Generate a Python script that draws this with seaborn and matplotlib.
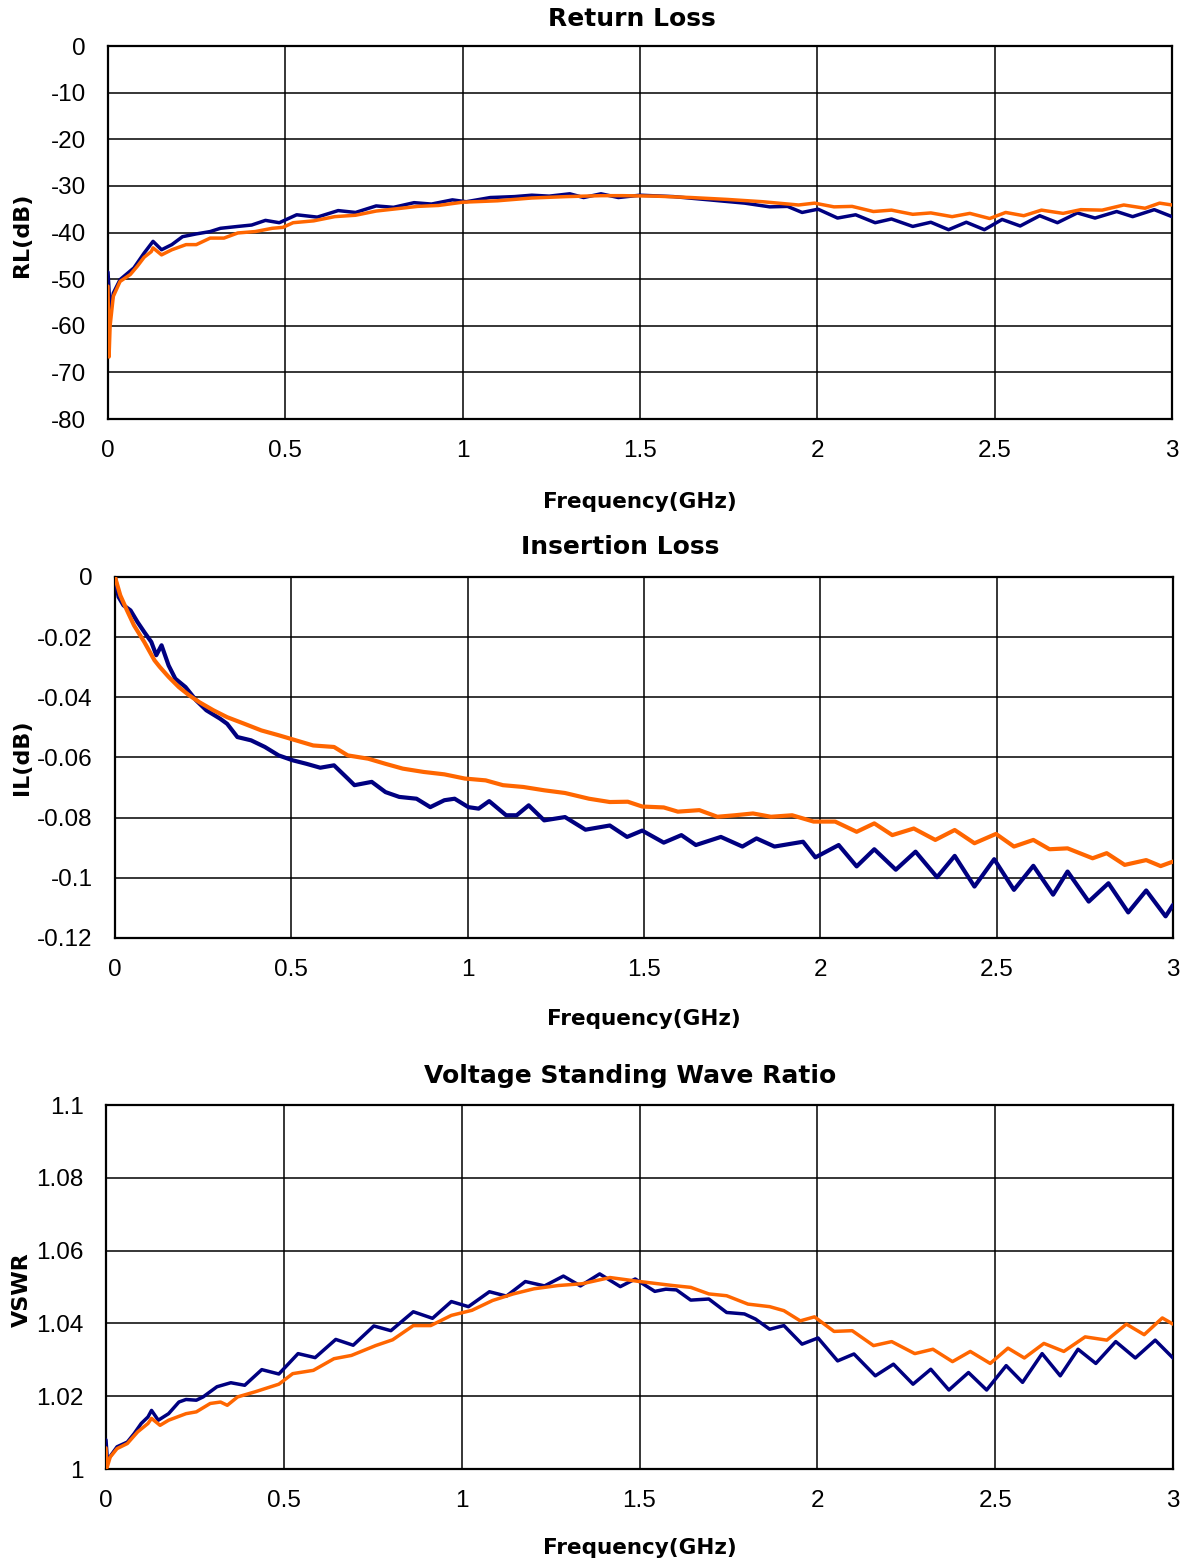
import numpy as np
import pandas as pd
import matplotlib
matplotlib.use("Agg")
import matplotlib.pyplot as plt
import seaborn as sns

# ---------------- data ----------------
x_ticks = [0, 0.5, 1, 1.5, 2, 2.5, 3]
x_tick_labels = ["0", "0.5", "1", "1.5", "2", "2.5", "3"]

rl_ticks = [0, -10, -20, -30, -40, -50, -60, -70, -80]
rl_tick_labels = ["0", "-10", "-20", "-30", "-40", "-50", "-60", "-70", "-80"]
il_ticks = [0, -0.02, -0.04, -0.06, -0.08, -0.10, -0.12]
il_tick_labels = ["0", "-0.02", "-0.04", "-0.06", "-0.08", "-0.1", "-0.12"]
vswr_ticks = [1.0, 1.02, 1.04, 1.06, 1.08, 1.10]
vswr_tick_labels = ["1", "1.02", "1.04", "1.06", "1.08", "1.1"]

rl_blue_f = [0, 0.002, 0.006, 0.015, 0.034, 0.073, 0.102, 0.127, 0.151, 0.180,
             0.210, 0.249, 0.288, 0.317, 0.366, 0.405, 0.444, 0.483, 0.532, 0.590,
             0.649, 0.698, 0.756, 0.805, 0.863, 0.912, 0.971, 1.010, 1.078, 1.146,
             1.195, 1.244, 1.302, 1.341, 1.390, 1.439, 1.500, 1.594, 1.695, 1.795,
             1.866, 1.916, 1.957, 2.002, 2.057, 2.108, 2.163, 2.209, 2.269, 2.320,
             2.370, 2.420, 2.471, 2.521, 2.572, 2.627, 2.677, 2.733, 2.783, 2.844,
             2.889, 2.950, 3.0]
rl_blue = [-48.5, -51.0, -57.0, -53.0, -50.1, -47.6, -44.4, -41.9, -43.7, -42.6,
           -40.9, -40.3, -39.8, -39.1, -38.7, -38.4, -37.4, -37.9, -36.2, -36.7,
           -35.3, -35.7, -34.3, -34.6, -33.6, -33.9, -33.0, -33.4, -32.5, -32.3,
           -32.0, -32.2, -31.7, -32.5, -31.7, -32.5, -32.0, -32.3, -33.0, -33.7,
           -34.5, -34.4, -35.7, -35.0, -36.9, -36.2, -37.9, -37.1, -38.7, -37.8,
           -39.4, -37.8, -39.4, -37.2, -38.6, -36.4, -37.9, -35.8, -36.9, -35.5,
           -36.6, -35.1, -36.6]

rl_orange_f = [0, 0.003, 0.006, 0.015, 0.034, 0.063, 0.083, 0.102, 0.122, 0.127,
               0.151, 0.180, 0.220, 0.249, 0.288, 0.327, 0.366, 0.415, 0.463, 0.493,
               0.522, 0.580, 0.639, 0.698, 0.756, 0.815, 0.873, 0.932, 1.000, 1.098,
               1.195, 1.293, 1.390, 1.450, 1.543, 1.644, 1.745, 1.846, 1.947, 1.992,
               2.047, 2.098, 2.158, 2.209, 2.269, 2.320, 2.380, 2.430, 2.486, 2.531,
               2.582, 2.632, 2.693, 2.743, 2.803, 2.864, 2.924, 2.965, 3.0]
rl_orange = [-51.5, -66.7, -60.0, -53.7, -50.5, -49.0, -47.2, -45.3, -44.1, -43.3,
             -44.8, -43.7, -42.6, -42.6, -41.2, -41.2, -40.1, -39.8, -39.1, -38.9,
             -37.9, -37.5, -36.6, -36.3, -35.4, -34.9, -34.4, -34.2, -33.5, -33.2,
             -32.6, -32.3, -32.1, -32.1, -32.2, -32.5, -32.9, -33.4, -34.1, -33.7,
             -34.5, -34.4, -35.5, -35.2, -36.1, -35.8, -36.6, -35.9, -37.0, -35.7,
             -36.4, -35.2, -35.9, -35.1, -35.2, -34.1, -34.8, -33.7, -34.1]

il_blue_f = [0, 0.010, 0.024, 0.044, 0.064, 0.083, 0.103, 0.117, 0.132, 0.152,
             0.171, 0.200, 0.230, 0.259, 0.298, 0.318, 0.347, 0.386, 0.425, 0.464,
             0.503, 0.543, 0.582, 0.621, 0.660, 0.679, 0.728, 0.767, 0.806, 0.855,
             0.894, 0.934, 0.963, 1.002, 1.031, 1.061, 1.109, 1.139, 1.173, 1.217,
             1.276, 1.334, 1.403, 1.452, 1.495, 1.556, 1.606, 1.647, 1.718, 1.779,
             1.819, 1.870, 1.951, 1.986, 2.052, 2.103, 2.153, 2.214, 2.270, 2.331,
             2.381, 2.437, 2.493, 2.549, 2.604, 2.660, 2.701, 2.761, 2.817, 2.873,
             2.924, 2.979, 3.0]
il_blue = [0, -0.0066, -0.0094, -0.0111, -0.0150, -0.0183, -0.0216, -0.0260, -0.0227, -0.0294,
           -0.0338, -0.0366, -0.0410, -0.0443, -0.0471, -0.0488, -0.0532, -0.0543, -0.0565, -0.0593,
           -0.0609, -0.0621, -0.0634, -0.0626, -0.0670, -0.0692, -0.0681, -0.0715, -0.0731, -0.0737,
           -0.0765, -0.0742, -0.0737, -0.0765, -0.0770, -0.0745, -0.0792, -0.0792, -0.0759, -0.0809,
           -0.0798, -0.0840, -0.0826, -0.0864, -0.0843, -0.0883, -0.0858, -0.0891, -0.0864, -0.0896,
           -0.0869, -0.0896, -0.0880, -0.0932, -0.0891, -0.0962, -0.0905, -0.0973, -0.0913, -0.0998,
           -0.0927, -0.1029, -0.0938, -0.1040, -0.0960, -0.1056, -0.0979, -0.1079, -0.1018, -0.1115,
           -0.1042, -0.1128, -0.1090]

il_orange_f = [0, 0.015, 0.034, 0.054, 0.083, 0.112, 0.127, 0.152, 0.181, 0.210,
               0.239, 0.279, 0.318, 0.367, 0.415, 0.464, 0.513, 0.562, 0.621, 0.660,
               0.718, 0.767, 0.816, 0.875, 0.934, 0.992, 1.051, 1.100, 1.158, 1.217,
               1.276, 1.344, 1.403, 1.454, 1.495, 1.556, 1.596, 1.657, 1.708, 1.758,
               1.809, 1.860, 1.920, 1.981, 2.042, 2.103, 2.153, 2.204, 2.265, 2.326,
               2.381, 2.437, 2.498, 2.549, 2.604, 2.650, 2.701, 2.772, 2.812, 2.863,
               2.924, 2.965, 3.0]
il_orange = [0, -0.0061, -0.0111, -0.0161, -0.0216, -0.0277, -0.0299, -0.0332, -0.0366, -0.0393,
             -0.0416, -0.0443, -0.0466, -0.0488, -0.0510, -0.0526, -0.0543, -0.0560, -0.0565, -0.0593,
             -0.0604, -0.0621, -0.0637, -0.0648, -0.0656, -0.0670, -0.0676, -0.0692, -0.0698, -0.0709,
             -0.0718, -0.0737, -0.0748, -0.0747, -0.0763, -0.0766, -0.0780, -0.0775, -0.0797, -0.0792,
             -0.0786, -0.0797, -0.0792, -0.0813, -0.0813, -0.0847, -0.0819, -0.0858, -0.0836, -0.0874,
             -0.0841, -0.0885, -0.0854, -0.0896, -0.0874, -0.0905, -0.0902, -0.0935, -0.0918, -0.0957,
             -0.0941, -0.0961, -0.0946]

vswr_blue_f = [0, 0.004, 0.031, 0.060, 0.079, 0.099, 0.118, 0.128, 0.147, 0.176,
               0.205, 0.225, 0.254, 0.273, 0.312, 0.351, 0.390, 0.438, 0.486, 0.540,
               0.588, 0.646, 0.695, 0.753, 0.801, 0.864, 0.918, 0.971, 1.019, 1.078,
               1.126, 1.179, 1.233, 1.286, 1.334, 1.388, 1.446, 1.488, 1.543, 1.574,
               1.604, 1.644, 1.695, 1.745, 1.795, 1.826, 1.866, 1.906, 1.957, 2.002,
               2.057, 2.103, 2.163, 2.214, 2.269, 2.319, 2.370, 2.425, 2.476, 2.531,
               2.577, 2.632, 2.683, 2.733, 2.783, 2.839, 2.894, 2.950, 3.0]
vswr_blue = [1.0080, 1.0024, 1.0061, 1.0074, 1.0097, 1.0125, 1.0143, 1.0161, 1.0134, 1.0152,
             1.0184, 1.0191, 1.0189, 1.0198, 1.0226, 1.0237, 1.0230, 1.0273, 1.0261, 1.0317,
             1.0306, 1.0356, 1.0340, 1.0393, 1.0380, 1.0432, 1.0414, 1.0460, 1.0446, 1.0487,
             1.0475, 1.0515, 1.0503, 1.0530, 1.0503, 1.0536, 1.0501, 1.0522, 1.0488, 1.0494,
             1.0492, 1.0464, 1.0467, 1.0430, 1.0426, 1.0412, 1.0384, 1.0394, 1.0343, 1.0360,
             1.0297, 1.0316, 1.0256, 1.0288, 1.0233, 1.0274, 1.0217, 1.0265, 1.0217, 1.0284,
             1.0238, 1.0317, 1.0256, 1.0329, 1.0290, 1.0350, 1.0305, 1.0354, 1.0305]

vswr_orange_f = [0, 0.003, 0.012, 0.031, 0.060, 0.089, 0.118, 0.128, 0.152, 0.176,
                 0.225, 0.254, 0.293, 0.322, 0.341, 0.370, 0.419, 0.486, 0.525, 0.583,
                 0.641, 0.690, 0.758, 0.806, 0.864, 0.913, 0.971, 1.029, 1.087, 1.145,
                 1.203, 1.271, 1.339, 1.417, 1.493, 1.543, 1.594, 1.644, 1.695, 1.745,
                 1.805, 1.866, 1.906, 1.952, 1.992, 2.047, 2.098, 2.158, 2.209, 2.274,
                 2.325, 2.380, 2.430, 2.486, 2.536, 2.582, 2.637, 2.693, 2.753, 2.814,
                 2.869, 2.919, 2.970, 3.0]
vswr_orange = [1.0058, 1.0004, 1.0033, 1.0056, 1.0070, 1.0102, 1.0125, 1.0139, 1.0120, 1.0134,
               1.0152, 1.0157, 1.0180, 1.0184, 1.0175, 1.0198, 1.0212, 1.0233, 1.0262, 1.0271,
               1.0303, 1.0312, 1.0339, 1.0355, 1.0394, 1.0394, 1.0422, 1.0436, 1.0463, 1.0481,
               1.0495, 1.0504, 1.0509, 1.0526, 1.0516, 1.0510, 1.0504, 1.0499, 1.0481, 1.0476,
               1.0453, 1.0446, 1.0435, 1.0407, 1.0418, 1.0378, 1.0380, 1.0339, 1.0350, 1.0317,
               1.0329, 1.0295, 1.0323, 1.0290, 1.0332, 1.0305, 1.0345, 1.0323, 1.0363, 1.0354,
               1.0398, 1.0369, 1.0415, 1.0398]

titles = ["Return Loss", "Insertion Loss", "Voltage Standing Wave Ratio"]
y_labels = ["RL(dB)", "IL(dB)", "VSWR"]
x_label = "Frequency(GHz)"

# ---------------- styling ----------------
sns.set_theme(style="white")
plt.rcParams['font.family'] = ['Liberation Sans', 'DejaVu Sans']
BOLD_FAMILY = ['DejaVu Sans']

BLUE = "#000080"
ORANGE = "#FF6600"
W, H = 1185, 1561

fig = plt.figure(figsize=(W / 100, H / 100), dpi=100)
fig.patch.set_facecolor("white")


def px_axes(left, top, right, bottom):
    return [left / W, 1 - bottom / H, (right - left) / W, (bottom - top) / H]


panels = [
    dict(rect=px_axes(108, 46, 1172, 419), bf=rl_blue_f, bv=rl_blue, of=rl_orange_f, ov=rl_orange,
         ylim=(-80, 0), yt=rl_ticks, ytl=rl_tick_labels, title=titles[0], tpos=(632, 19),
         ylab=y_labels[0], ylabx=22, ylaby=235, lw=2.5, xlpad=22),
    dict(rect=px_axes(115, 577, 1173, 938), bf=il_blue_f, bv=il_blue, of=il_orange_f, ov=il_orange,
         ylim=(-0.12, 0), yt=il_ticks, ytl=il_tick_labels, title=titles[1], tpos=(620, 547),
         ylab=y_labels[1], ylabx=22, ylaby=757, lw=3.0, xlpad=20),
    dict(rect=px_axes(106, 1105, 1173, 1469), bf=vswr_blue_f, bv=vswr_blue, of=vswr_orange_f, ov=vswr_orange,
         ylim=(1.0, 1.1), yt=vswr_ticks, ytl=vswr_tick_labels, title=titles[2], tpos=(630, 1076),
         ylab=y_labels[2], ylabx=22, ylaby=1290, lw=2.5, xlpad=18.5),
]

for p in panels:
    ax = fig.add_axes(p["rect"])
    df = pd.concat([
        pd.DataFrame({"freq": p["bf"], "val": p["bv"], "series": "blue"}),
        pd.DataFrame({"freq": p["of"], "val": p["ov"], "series": "orange"}),
    ], ignore_index=True)
    sns.lineplot(data=df, x="freq", y="val", hue="series", hue_order=["blue", "orange"],
                 palette={"blue": BLUE, "orange": ORANGE}, estimator=None, sort=False,
                 linewidth=p["lw"], legend=False, ax=ax, zorder=3)
    for ln in ax.get_lines():
        ln.set_solid_joinstyle("round")
        ln.set_solid_capstyle("round")
    ax.set_xlim(0, 3)
    ax.set_ylim(*p["ylim"])
    ax.set_xticks(x_ticks)
    ax.set_xticklabels(x_tick_labels)
    ax.set_yticks(p["yt"])
    ax.set_yticklabels(p["ytl"])
    ax.grid(True, color="black", linewidth=1.1, zorder=1)
    ax.set_axisbelow(True)
    for s in ax.spines.values():
        s.set_visible(True)
        s.set_color("black")
        s.set_linewidth(1.6)
    ax.tick_params(axis="both", length=0, labelsize=17.5, colors="black")
    ax.tick_params(axis="y", pad=16)
    ax.tick_params(axis="x", pad=15)
    ax.set_xlabel(x_label, fontsize=15.5, fontweight="bold", labelpad=p["xlpad"], color="black",
                  family=BOLD_FAMILY)
    ax.set_ylabel("")
    fig.text(p["ylabx"] / W, 1 - p["ylaby"] / H, p["ylab"], rotation=90, ha="center", va="center",
             fontsize=16, fontweight="bold", color="black", family=BOLD_FAMILY)
    fig.text(p["tpos"][0] / W, 1 - p["tpos"][1] / H, p["title"], ha="center", va="center",
             fontsize=18, fontweight="bold", color="black", family=BOLD_FAMILY)

fig.savefig("out.png", dpi=100, facecolor="white")
